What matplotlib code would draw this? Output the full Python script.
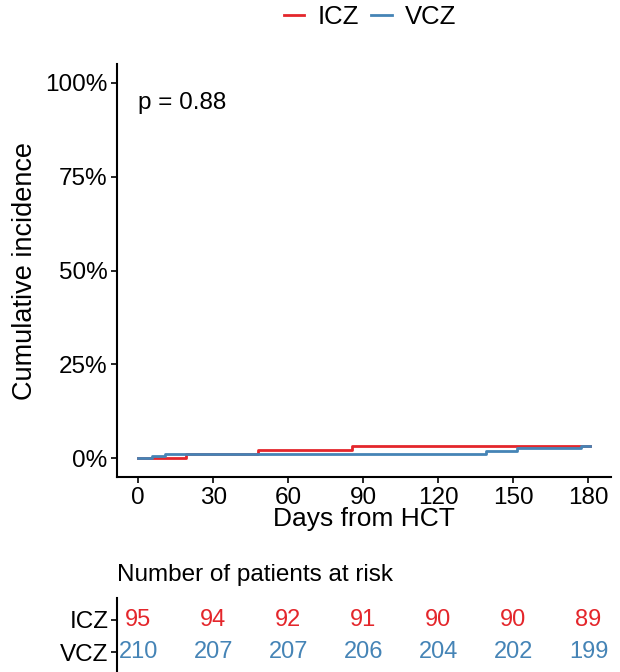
import matplotlib.pyplot as plt
from matplotlib.lines import Line2D

plt.rcParams["font.family"] = ["Liberation Sans", "DejaVu Sans"]

# step curves (days, cumulative incidence %)
icz_days = [0, 19, 48, 85.5, 180.5]
icz_inc = [0, 1.05, 2.1, 3.2, 3.2]
vcz_days = [0, 5.5, 10.8, 139, 151.5, 177, 180.5]
vcz_inc = [0, 0.48, 1.0, 1.95, 2.8, 3.2, 3.2]

risk_days = [0, 30, 60, 90, 120, 150, 180]
icz_risk = [95, 94, 92, 91, 90, 90, 89]
vcz_risk = [210, 207, 207, 206, 204, 202, 199]

red = "#E4262B"
blue = "#4584B6"

fig = plt.figure(figsize=(6.2, 6.72), dpi=100)
W, H = 620, 672

ax = fig.add_axes([117 / W, 1 - 477 / H, 494 / W, 413 / H])
ax.step(icz_days, icz_inc, where="post", color=red, lw=2)
ax.step(vcz_days, vcz_inc, where="post", color=blue, lw=2)
ax.set_xlim(-8.5, 189)
ax.set_ylim(-5, 105)
ax.set_xticks(risk_days)
ax.set_yticks([0, 25, 50, 75, 100])
ax.set_yticklabels(["0%", "25%", "50%", "75%", "100%"])
for s in ["top", "right"]:
    ax.spines[s].set_visible(False)
for s in ["left", "bottom"]:
    ax.spines[s].set_linewidth(1.5)
ax.tick_params(labelsize=17.5, length=4, width=1.2, colors="black", pad=3)
ax.set_xlabel("Days from HCT", fontsize=19, labelpad=-1)
ax.set_ylabel("Cumulative incidence", fontsize=19.5, labelpad=5)
ax.text(0, 94.7, "p = 0.88", fontsize=17.5, va="center", ha="left")

handles = [Line2D([], [], color=red, lw=2), Line2D([], [], color=blue, lw=2)]
fig.legend(handles, ["ICZ", "VCZ"], loc="center", bbox_to_anchor=(370 / W, 1 - 17 / H),
           ncol=2, frameon=False, fontsize=18.5, handlelength=0.8, handletextpad=0.5,
           columnspacing=0.5)

# risk table
tab = fig.add_axes([117 / W, 0, 494 / W, 74 / H])
tab.set_xlim(-8.5, 189)
tab.set_ylim(0.376, 2.686)
for x, n in zip(risk_days, icz_risk):
    tab.text(x, 2, str(n), color=red, fontsize=17, ha="center", va="center")
for x, n in zip(risk_days, vcz_risk):
    tab.text(x, 1, str(n), color=blue, fontsize=17, ha="center", va="center")
tab.set_yticks([2, 1])
tab.set_yticklabels(["ICZ", "VCZ"])
tab.set_xticks([])
for s in ["top", "right", "bottom"]:
    tab.spines[s].set_visible(False)
tab.spines["left"].set_linewidth(1.5)
tab.tick_params(labelsize=17.5, length=4, width=1.2, pad=2)
fig.text(117 / W, 1 - 575 / H, "Number of patients at risk", fontsize=17.5, ha="left", va="center")

fig.savefig("out.png", dpi=100)
